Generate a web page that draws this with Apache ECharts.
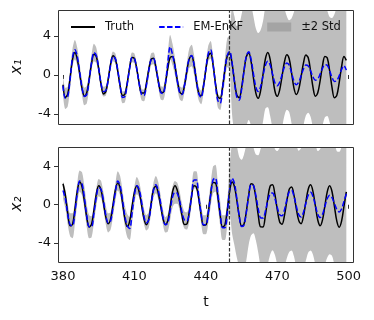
<!DOCTYPE html>
<html>
<head>
<meta charset="utf-8">
<script src="https://cdn.jsdelivr.net/npm/echarts@6/dist/echarts.min.js"></script>
<style>
  html, body { margin: 0; padding: 0; background: #fff; }
  #chart { width: 374px; height: 320px; }
</style>
</head>
<body>
<div id="chart"></div>
<script>
// time runs 380..499, one sample per step
var tStart = 380;
var tTicks = [380, 410, 440, 470, 500];
var yTicks = [-4, 0, 4];
var forecastStart = 450;

var x1Truth = [
  -1.0, -2.3, -1.98, -0.26, 1.61, 2.3, 1.61, 0.13, -1.39, -2.18,
  -1.80, -0.42, 1.19, 2.14, 1.89, 0.59, -1.0, -1.94, -1.69, -0.40,
  1.14, 1.97, 1.63, 0.37, -1.15, -2.11, -1.98, -0.78, 0.78, 1.80,
  1.70, 0.61, -0.85, -1.86, -1.86, -0.88, 0.54, 1.60, 1.71, 0.79,
  -0.62, -1.70, -1.80, -0.84, 0.65, 1.79, 1.91, 0.96, -0.53, -1.72,
  -1.95, -1.09, 0.38, 1.63, 1.97, 1.09, -0.52, -1.88, -2.14, -1.12,
  0.57, 1.97, 2.23, 1.1, -0.77, -2.22, -2.39, -1.25, 0.54, 1.96,
  2.23, 1.18, -0.60, -2.05, -2.34, -1.33, 0.40, 1.87, 2.27, 1.38,
  -0.32, -1.86, -2.39, -1.61, 0.04, 1.64, 2.3, 1.61, -0.04, -1.64,
  -2.19, -1.54, -0.13, 1.33, 2.08, 1.67, 0.22, -1.34, -2.0, -1.48,
  -0.18, 1.24, 2.05, 1.77, 0.38, -1.27, -2.17, -1.83, -0.57, 0.95,
  1.91, 1.75, 0.41, -1.3, -2.34, -2.09, -0.78, 0.85, 1.90, 1.5
];
var x1Em = [
  -1.1, -2.4, -2.2, -0.4, 1.8, 2.6, 1.9, 0.3, -1.3, -2.2,
  -2.0, -0.5, 1.3, 2.3, 2.0, 0.7, -0.9, -1.7, -1.6, -0.5,
  1.0, 1.9, 1.7, 0.5, -1.1, -2.3, -2.2, -0.9, 0.7, 1.8,
  1.7, 0.6, -0.9, -2.0, -2.1, -1.1, 0.4, 1.6, 1.7, 0.8,
  -0.6, -1.8, -1.9, -0.9, 1.2, 2.9, 2.1, 0.9, -0.6, -1.8,
  -2.0, -1.1, 0.4, 1.7, 2.0, 1.1, -0.5, -1.9, -2.3, -1.2,
  0.6, 2.2, 2.6, 1.2, -0.9, -2.6, -2.9, -1.4, 0.5, 2.0,
  2.43, 1.27, -0.67, -2.27, -2.58, -1.50, 0.36, 1.94, 2.38, 1.59,
  0.11, -1.23, -1.70, -1.18, -0.09, 0.97, 1.4, 1.02, 0.10, -0.79,
  -1.1, -0.74, 0.03, 0.83, 1.24, 1.01, 0.22, -0.64, -1.0, -0.74,
  -0.09, 0.62, 1.03, 0.93, 0.41, -0.20, -0.54, -0.41, 0.09, 0.69,
  1.06, 1.0, 0.45, -0.25, -0.67, -0.58, -0.08, 0.56, 0.96, 0.5
];
// 2-std spread above / below the EM-EnKF mean
var x1SpreadUp = [
  1.0, 1.1, 1.0, 0.9, 0.9, 1.0, 0.9, 0.8, 0.8, 0.9,
  0.9, 0.8, 0.8, 0.9, 0.8, 0.6, 0.5, 0.5, 0.5, 0.5,
  0.5, 0.5, 0.5, 0.5, 0.6, 0.6, 0.6, 0.5, 0.5, 0.5,
  0.5, 0.5, 0.5, 0.6, 0.6, 0.6, 0.6, 0.6, 0.6, 0.6,
  0.6, 0.7, 0.7, 0.8, 1.0, 1.2, 1.1, 0.9, 0.7, 0.7,
  0.7, 0.7, 0.8, 1.0, 1.1, 1.0, 0.8, 0.7, 0.7, 0.7,
  0.7, 0.8, 0.9, 0.8, 0.7, 0.7, 0.7, 0.8, 1.2, 1.8,
  1.6, 5.7, 6.7, 7.3, 7.8, 7.7, 7.1, 6.1, 5.6, 5.6,
  5.9, 6.0, 6.0, 5.8, 5.6, 6.0, 6.1, 6.5, 7.4, 8.0,
  8.1, 7.9, 7.4, 6.0, 4.8, 4.6, 5.6, 7.1, 8.2, 8.2,
  7.6, 6.9, 6.5, 6.6, 7.1, 7.5, 7.5, 7.6, 7.4, 6.8,
  6.2, 5.6, 5.5, 6.1, 6.9, 7.6, 7.6, 6.9, 6.5, 7.0
];
var x1SpreadDown = [
  1.0, 1.1, 1.0, 0.9, 0.9, 1.0, 0.9, 0.8, 0.8, 0.9,
  0.9, 0.8, 0.8, 0.9, 0.8, 0.6, 0.5, 0.5, 0.5, 0.5,
  0.5, 0.5, 0.5, 0.5, 0.6, 0.6, 0.6, 0.5, 0.5, 0.5,
  0.5, 0.5, 0.5, 0.6, 0.6, 0.6, 0.6, 0.6, 0.6, 0.6,
  0.6, 0.7, 0.7, 0.8, 1.0, 1.2, 1.1, 0.9, 0.7, 0.7,
  0.7, 0.7, 0.8, 1.0, 1.1, 1.0, 0.8, 0.7, 0.7, 0.7,
  0.7, 0.8, 0.9, 0.8, 0.7, 0.7, 0.7, 0.8, 1.2, 1.2,
  1.9, 5.3, 5.3, 4.7, 4.9, 5.5, 6.4, 7.2, 7.0, 6.8,
  6.1, 5.8, 5.3, 4.8, 4.7, 4.4, 4.7, 5.2, 5.6, 5.7,
  5.9, 6.3, 5.5, 5.0, 4.8, 4.8, 5.2, 5.9, 6.0, 6.3,
  6.4, 5.8, 5.2, 4.8, 4.7, 5.3, 6.5, 6.6, 6.6, 5.9,
  5.4, 5.2, 5.3, 5.8, 6.3, 6.4, 6.4, 6.6, 6.8, 6.1
];

var x2Truth = [
  2.2, 0.99, -0.90, -2.21, -2.06, -0.49, 1.42, 2.39, 1.87, 0.36,
  -1.36, -2.34, -2.04, -0.56, 1.14, 1.99, 1.52, 0.16, -1.30, -1.99,
  -1.48, -0.02, 1.55, 2.29, 1.74, 0.18, -1.49, -2.29, -1.73, -0.15,
  1.32, 1.99, 1.34, -0.05, -1.45, -2.09, -1.50, 0.13, 1.63, 1.95,
  1.21, -0.12, -1.44, -2.08, -1.67, -0.22, 1.34, 2.0, 1.51, 0.27,
  -1.15, -2.07, -2.03, -0.81, 0.87, 1.99, 1.87, 0.64, -1.0, -2.14,
  -2.12, -0.82, 1.02, 2.32, 2.30, 0.90, -1.04, -2.32, -2.14, -0.54,
  1.42, 2.39, 1.91, 0.48, -1.18, -2.20, -2.05, -0.71, 1.04, 2.19,
  2.05, 0.71, -1.08, -2.32, -2.33, -1.11, 0.64, 1.96, 2.10, 1.08,
  -0.52, -1.80, -2.04, -1.14, 0.37, 1.61, 1.85, 1.01, -0.42, -1.64,
  -1.98, -1.19, 0.29, 1.63, 2.09, 1.38, -0.13, -1.60, -2.2, -1.58,
  -0.1, 1.38, 2.0, 1.36, -0.18, -1.71, -2.35, -1.71, -0.18, 1.36
];
var x2Em = [
  1.5, 0.6, -1.0, -2.1, -2.2, -0.8, 1.2, 2.5, 2.2, 0.7,
  -1.2, -2.3, -2.3, -0.9, 0.8, 1.8, 1.6, 0.4, -1.1, -1.9,
  -1.7, -0.3, 1.3, 2.5, 2.0, 0.5, -1.2, -2.2, -2.5, -0.9,
  1.0, 2.0, 1.6, 0.3, -1.2, -1.9, -1.6, -0.1, 1.5, 2.1,
  1.5, 0.2, -1.3, -2.1, -1.9, -0.6, 0.8, 1.3, 1.2, 0.4,
  -0.8, -1.6, -1.7, -0.9, 0.9, 2.6, 2.6, 0.9, -0.9, -2.1,
  -2.1, -0.9, 1.0, 2.6, 2.8, 1.2, -0.9, -2.4, -2.4, -0.9,
  1.6, 2.79, 2.26, 0.67, -1.16, -2.29, -2.15, -0.81, 0.94, 2.09,
  2.01, 0.97, -0.41, -1.37, -1.40, -0.67, 0.37, 1.15, 1.24, 0.65,
  -0.28, -1.03, -1.16, -0.54, 0.50, 1.35, 1.51, 0.90, -0.15, -1.04,
  -1.28, -0.79, 0.15, 1.00, 1.30, 0.86, -0.08, -0.98, -1.35, -1.01,
  -0.18, 0.66, 1.0, 0.74, 0.13, -0.49, -0.75, -0.45, 0.35, 1.15
];
var x2SpreadUp = [
  0.9, 1.0, 1.1, 1.2, 1.3, 1.2, 1.1, 1.1, 1.2, 1.2,
  1.2, 1.2, 1.1, 1.0, 0.9, 0.9, 0.9, 0.9, 1.0, 1.0,
  0.9, 0.9, 0.9, 1.0, 1.0, 1.0, 1.1, 1.2, 1.2, 1.0,
  0.9, 0.9, 0.8, 0.8, 0.8, 0.8, 0.8, 0.8, 0.8, 0.9,
  0.9, 0.8, 0.8, 0.8, 0.9, 1.0, 1.1, 1.2, 1.1, 1.0,
  0.9, 0.9, 0.9, 0.9, 0.9, 0.9, 0.9, 0.9, 1.0, 1.0,
  1.0, 1.1, 1.2, 1.4, 1.4, 1.3, 1.3, 1.3, 1.3, 1.3,
  2.4, 3.7, 4.7, 5.5, 6.2, 7.0, 7.4, 7.1, 6.1, 4.7,
  4.0, 4.3, 5.6, 7.2, 7.9, 7.7, 6.6, 5.9, 5.4, 5.2,
  5.9, 7.0, 7.7, 7.5, 6.5, 5.7, 5.5, 5.9, 6.4, 6.7,
  7.2, 7.3, 6.9, 6.0, 5.7, 6.1, 6.5, 6.6, 7.2, 7.4,
  7.2, 6.3, 6.0, 6.3, 6.4, 6.1, 6.3, 6.5, 6.5, 5.9
];
var x2SpreadDown = [
  0.9, 1.0, 1.1, 1.2, 1.3, 1.2, 1.1, 1.1, 1.2, 1.2,
  1.2, 1.2, 1.1, 1.0, 0.9, 0.9, 0.9, 0.9, 1.0, 1.0,
  0.9, 0.9, 0.9, 1.0, 1.0, 1.0, 1.1, 1.2, 1.2, 1.0,
  0.9, 0.9, 0.8, 0.8, 0.8, 0.8, 0.8, 0.8, 0.8, 0.9,
  0.9, 0.8, 0.8, 0.8, 0.9, 1.0, 1.1, 1.2, 1.1, 1.0,
  0.9, 0.9, 0.9, 0.9, 0.9, 0.9, 0.9, 0.9, 1.0, 1.0,
  1.0, 1.1, 1.2, 1.4, 1.4, 1.3, 1.3, 1.3, 1.3, 1.3,
  2.6, 5.8, 6.5, 6.2, 5.3, 4.7, 4.7, 5.0, 5.1, 5.3,
  5.0, 4.7, 4.6, 5.1, 5.6, 6.3, 6.6, 6.4, 6.0, 5.9,
  6.0, 6.0, 5.8, 6.0, 6.1, 6.3, 6.3, 6.3, 6.4, 6.0,
  5.7, 6.0, 6.0, 6.0, 6.1, 6.1, 6.2, 6.0, 5.7, 6.0,
  6.1, 6.2, 6.2, 6.1, 6.4, 6.5, 6.3, 6.6, 7.2, 7.7
];

var font = 'DejaVu Sans';
var bandColor = '#bebebe';

function pairs(vals) {
  return vals.map(function (v, i) { return [tStart + i, v]; });
}

// band = grey fill down from the upper edge, then white fill down from the lower edge
function panelSeries(idx, truth, em, up, down) {
  var hi = em.map(function (m, i) { return m + up[i]; });
  var lo = em.map(function (m, i) { return m - down[i]; });
  return [
    {
      type: 'line', name: 'band-hi-' + idx, xAxisIndex: idx, yAxisIndex: idx,
      data: pairs(hi), symbol: 'none', smooth: 0.3, silent: true,
      lineStyle: { width: 0, opacity: 0 },
      areaStyle: { origin: 'start', color: bandColor, opacity: 1 }
    },
    {
      type: 'line', name: 'band-lo-' + idx, xAxisIndex: idx, yAxisIndex: idx,
      data: pairs(lo), symbol: 'none', smooth: 0.3, silent: true,
      lineStyle: { width: 0, opacity: 0 },
      areaStyle: { origin: 'start', color: '#ffffff', opacity: 1 }
    },
    {
      type: 'line', name: 'Truth', xAxisIndex: idx, yAxisIndex: idx,
      data: pairs(truth), symbol: 'none', smooth: 0.35,
      lineStyle: { color: '#000', width: 1.5 }, itemStyle: { color: '#000' },
      markLine: {
        silent: true, symbol: ['none', 'none'], label: { show: false },
        lineStyle: { color: '#333', type: [3.5, 1.8], width: 1.2 },
        data: [{ xAxis: forecastStart }]
      }
    },
    {
      type: 'line', name: 'EM-EnKF', xAxisIndex: idx, yAxisIndex: idx,
      data: pairs(em), symbol: 'none', smooth: 0.35,
      lineStyle: { color: '#0000ff', width: 1.5, type: [5.5, 2.4] },
      itemStyle: { color: '#0000ff' }
    }
  ];
}

function xAxis(idx, showLabels) {
  return {
    type: 'value', gridIndex: idx, min: 377.9, max: 501.8,
    splitLine: { show: false }, axisLine: { show: false },
    axisTick: { show: true, inside: false, length: 4, customValues: tTicks,
      lineStyle: { color: '#333', width: 1 } },
    axisLabel: { show: showLabels, customValues: tTicks, margin: 8,
      fontSize: 13, fontFamily: font, color: '#111' }
  };
}

function yAxis(idx, lo, hi) {
  return {
    type: 'value', gridIndex: idx, min: lo, max: hi,
    splitLine: { show: false }, axisLine: { show: false },
    axisTick: { show: true, inside: false, length: 4, customValues: yTicks,
      lineStyle: { color: '#333', width: 1 } },
    axisLabel: { customValues: yTicks, margin: 7,
      fontSize: 13, fontFamily: font, color: '#111' }
  };
}

var chart = echarts.init(document.getElementById('chart'));

var series = []
  .concat(panelSeries(0, x1Truth, x1Em, x1SpreadUp, x1SpreadDown))
  .concat(panelSeries(1, x2Truth, x2Em, x2SpreadUp, x2SpreadDown));
// legend-only entry so the std swatch is a full rectangle
series.push({ type: 'bar', name: '±2 Std', xAxisIndex: 0, yAxisIndex: 0,
  data: [], itemStyle: { color: '#a4a4a4' } });

chart.setOption({
  animation: false,
  grid: [
    { left: 58, top: 10, width: 295, height: 114 },
    { left: 58, top: 147, width: 295, height: 115 }
  ],
  xAxis: [xAxis(0, false), xAxis(1, true)],
  yAxis: [yAxis(0, -5.03, 6.67), yAxis(1, -6.0, 6.05)],
  legend: {
    selectedMode: false, left: 70, top: 21, padding: 0,
    itemWidth: 24, itemHeight: 9, itemGap: 24,
    textStyle: { fontSize: 11.5, fontFamily: font, color: '#111', padding: [0, 0, 0, 5] },
    data: [
      { name: 'Truth', itemStyle: { opacity: 0 } },
      { name: 'EM-EnKF', itemStyle: { opacity: 0 } },
      { name: '±2 Std', icon: 'rect' }
    ]
  },
  graphic: [
    { type: 'rect', z: 100, silent: true,
      shape: { x: 58.5, y: 10.5, width: 295, height: 114 },
      style: { fill: 'none', stroke: '#333', lineWidth: 1 } },
    { type: 'rect', z: 100, silent: true,
      shape: { x: 58.5, y: 147.5, width: 295, height: 115 },
      style: { fill: 'none', stroke: '#333', lineWidth: 1 } },
    { type: 'text', x: 17, y: 67, rotation: Math.PI / 2,
      style: { text: 'x₁', font: 'italic 15px "DejaVu Sans"', fill: '#111',
        textAlign: 'center', textVerticalAlign: 'middle' } },
    { type: 'text', x: 17, y: 204, rotation: Math.PI / 2,
      style: { text: 'x₂', font: 'italic 15px "DejaVu Sans"', fill: '#111',
        textAlign: 'center', textVerticalAlign: 'middle' } },
    { type: 'text', x: 206, y: 302,
      style: { text: 't', font: '14px "DejaVu Sans"', fill: '#111',
        textAlign: 'center', textVerticalAlign: 'middle' } }
  ],
  series: series
});
</script>
</body>
</html>
